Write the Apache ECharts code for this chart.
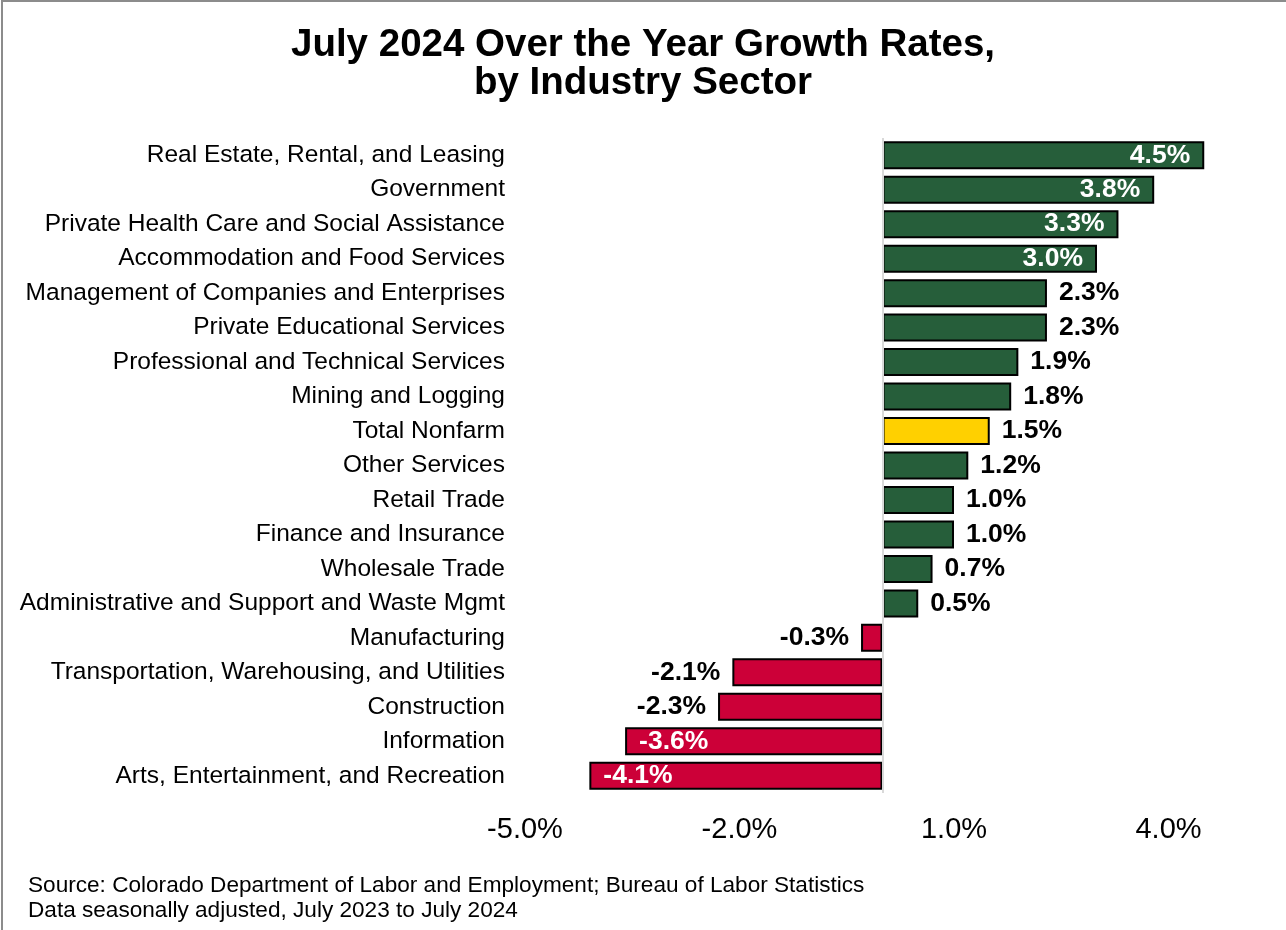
<!DOCTYPE html>
<html>
<head>
<meta charset="utf-8">
<script src="https://cdn.jsdelivr.net/npm/echarts@6/dist/echarts.min.js"></script>
<style>
  html, body { margin: 0; padding: 0; background: #fff; }
  #chart { width: 1286px; height: 930px; }
</style>
</head>
<body>
<div id="chart"></div>
<script>
// sectors, top to bottom
var sectors = [
  'Real Estate, Rental, and Leasing',
  'Government',
  'Private Health Care and Social Assistance',
  'Accommodation and Food Services',
  'Management of Companies and Enterprises',
  'Private Educational Services',
  'Professional and Technical Services',
  'Mining and Logging',
  'Total Nonfarm',
  'Other Services',
  'Retail Trade',
  'Finance and Insurance',
  'Wholesale Trade',
  'Administrative and Support and Waste Mgmt',
  'Manufacturing',
  'Transportation, Warehousing, and Utilities',
  'Construction',
  'Information',
  'Arts, Entertainment, and Recreation'
]
var growth = [4.5, 3.8, 3.3, 3.0, 2.3, 2.3, 1.9, 1.8, 1.5, 1.2, 1.0, 1.0, 0.7, 0.5, -0.3, -2.1, -2.3, -3.6, -4.1]
var tickValues = [-5, -2, 1, 4]
var totalName = 'Total Nonfarm'

var GREEN = '#265E3A', RED = '#CC0038', YELLOW = '#FFD000'
var FONT = 'Liberation Sans, Arial'

// ECharts draws category axis bottom-up, so reverse
var cats = sectors.slice().reverse()
var vals = growth.slice().reverse()

var seriesData = vals.map(function (v, i) {
  var color = cats[i] === totalName ? YELLOW : (v < 0 ? RED : GREEN)
  var inside = Math.abs(v) >= 3
  var pos
  if (v >= 0) pos = inside ? 'insideRight' : 'right'
  else pos = inside ? 'insideLeft' : 'left'
  return {
    value: v,
    itemStyle: { color: color },
    label: {
      position: pos,
      color: inside ? '#fff' : '#000',
      distance: inside ? 14 : 12
    }
  }
})

var chart = echarts.init(document.getElementById('chart'), null, { renderer: 'canvas' })
chart.setOption({
  backgroundColor: '#fff',
  animation: false,
  title: {
    text: 'July 2024 Over the Year Growth Rates,\nby Industry Sector',
    left: 'center',
    top: 21,
    textStyle: {
      fontFamily: FONT,
      fontWeight: 'bold',
      fontSize: 38.5,
      lineHeight: 38,
      color: '#000'
    }
  },
  grid: { left: 525, right: 46, top: 138, height: 655, containLabel: false },
  xAxis: {
    type: 'value',
    min: -5,
    max: 5,
    interval: 1,
    axisLine: { show: false },
    axisTick: { show: false },
    splitLine: { show: false },
    axisLabel: {
      margin: 22,
      fontFamily: FONT,
      fontSize: 29,
      color: '#000',
      formatter: function (v) {
        return tickValues.indexOf(Math.round(v)) >= 0 ? v.toFixed(1) + '%' : ''
      }
    }
  },
  yAxis: {
    type: 'category',
    data: cats,
    axisLine: { show: false, onZero: false },
    axisTick: { show: false },
    axisLabel: {
      margin: 20,
      fontFamily: FONT,
      fontSize: 24.5,
      color: '#000'
    }
  },
  series: [{
    type: 'bar',
    data: seriesData,
    barWidth: 28,
    itemStyle: { borderColor: '#000', borderWidth: 2 },
    label: {
      show: true,
      fontFamily: FONT,
      fontWeight: 'bold',
      fontSize: 26.5,
      formatter: function (p) { return p.value.toFixed(1) + '%' }
    },
    markLine: {
      silent: true,
      symbol: 'none',
      label: { show: false },
      lineStyle: { color: '#d9d9d9', width: 2, type: 'solid' },
      data: [{ xAxis: 0 }]
    }
  }],
  graphic: [
    {
      type: 'line', z: 100,
      shape: { x1: 2, y1: 1, x2: 1286, y2: 1 },
      style: { stroke: '#8c8c8c', lineWidth: 2 }
    },
    {
      type: 'line', z: 100,
      shape: { x1: 2, y1: 0, x2: 2, y2: 930 },
      style: { stroke: '#8c8c8c', lineWidth: 2 }
    },
    {
      type: 'text', left: 28, top: 873,
      style: {
        text: 'Source: Colorado Department of Labor and Employment; Bureau of Labor Statistics\nData seasonally adjusted, July 2023 to July 2024',
        font: '22.6px "Liberation Sans", Arial',
        lineHeight: 25,
        fill: '#000'
      }
    }
  ]
})
</script>
</body>
</html>
